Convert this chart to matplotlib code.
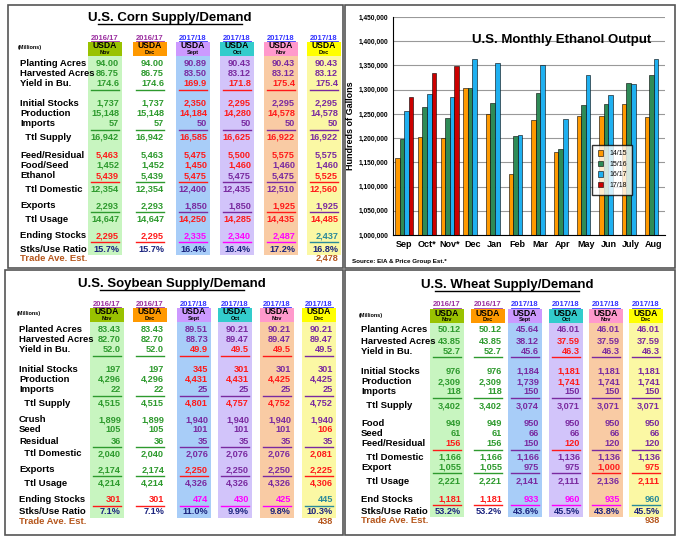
import matplotlib
matplotlib.use("Agg")
import matplotlib.pyplot as plt
from matplotlib.patches import Rectangle

plt.rcParams["font.family"] = ["Liberation Sans", "DejaVu Sans"]

# ---- ethanol data (thousand hundreds of gallons) ----
months = ["Sep", "Oct*", "Nov*", "Dec", "Jan", "Feb", "Mar", "Apr", "May", "Jun", "July", "Aug"]
eth_1415 = [1159, 1202, 1200, 1304, 1250, 1125, 1238, 1172, 1246, 1246, 1271, 1244]
eth_1516 = [1199, 1265, 1242, 1304, 1273, 1204, 1294, 1178, 1269, 1271, 1313, 1330]
eth_1617 = [1255, 1292, 1284, 1363, 1355, 1206, 1350, 1239, 1331, 1288, 1311, 1363]
eth_1718 = [1284, 1335, 1348]

years = ["2016/17", "2016/17", "2017/18", "2017/18", "2017/18", "2017/18"]
months_hdr = ["Nov", "Dec", "Sept", "Oct", "Nov", "Dec"]

corn_labels = ["Planting Acres", "Harvested Acres", "Yield in Bu.", "Initial Stocks", "Production", "Imports",
               "  Ttl Supply", "Feed/Residual", "Food/Seed", "Ethanol", "  Ttl Domestic", "Exports",
               "  Ttl Usage", "Ending Stocks", "Stks/Use Ratio"]
corn_vals = [
    ["94.00", "94.00", "90.89", "90.43", "90.43", "90.43"],
    ["86.75", "86.75", "83.50", "83.12", "83.12", "83.12"],
    ["174.6", "174.6", "169.9", "171.8", "175.4", "175.4"],
    ["1,737", "1,737", "2,350", "2,295", "2,295", "2,295"],
    ["15,148", "15,148", "14,184", "14,280", "14,578", "14,578"],
    ["57", "57", "50", "50", "50", "50"],
    ["16,942", "16,942", "16,585", "16,625", "16,922", "16,922"],
    ["5,463", "5,463", "5,475", "5,500", "5,575", "5,575"],
    ["1,452", "1,452", "1,450", "1,460", "1,460", "1,460"],
    ["5,439", "5,439", "5,475", "5,475", "5,475", "5,525"],
    ["12,354", "12,354", "12,400", "12,435", "12,510", "12,560"],
    ["2,293", "2,293", "1,850", "1,850", "1,925", "1,925"],
    ["14,647", "14,647", "14,250", "14,285", "14,435", "14,485"],
    ["2,295", "2,295", "2,335", "2,340", "2,487", "2,437"],
    ["15.7%", "15.7%", "16.4%", "16.4%", "17.2%", "16.8%"],
]
corn_trade = "2,478"

soy_labels = ["Planted Acres", "Harvested Acres", "Yield in Bu.", "Initial Stocks", "Production", "Imports",
              "  Ttl Supply", "Crush", "Seed", "Residual", "  Ttl Domestic", "Exports",
              "  Ttl Usage", "Ending Stocks", "Stks/Use Ratio"]
soy_vals = [
    ["83.43", "83.43", "89.51", "90.21", "90.21", "90.21"],
    ["82.70", "82.70", "88.73", "89.47", "89.47", "89.47"],
    ["52.0", "52.0", "49.9", "49.5", "49.5", "49.5"],
    ["197", "197", "345", "301", "301", "301"],
    ["4,296", "4,296", "4,431", "4,431", "4,425", "4,425"],
    ["22", "22", "25", "25", "25", "25"],
    ["4,515", "4,515", "4,801", "4,757", "4,752", "4,752"],
    ["1,899", "1,899", "1,940", "1,940", "1,940", "1,940"],
    ["105", "105", "101", "101", "101", "106"],
    ["36", "36", "35", "35", "35", "35"],
    ["2,040", "2,040", "2,076", "2,076", "2,076", "2,081"],
    ["2,174", "2,174", "2,250", "2,250", "2,250", "2,225"],
    ["4,214", "4,214", "4,326", "4,326", "4,326", "4,306"],
    ["301", "301", "474", "430", "425", "445"],
    ["7.1%", "7.1%", "11.0%", "9.9%", "9.8%", "10.3%"],
]
soy_trade = "438"

wheat_labels = ["Planting Acres", "Harvested Acres", "Yield in Bu.", "Initial Stocks", "Production", "Imports",
                "  Ttl Supply", "Food", "Seed", "Feed/Residual", "  Ttl Domestic", "Export",
                "  Ttl Usage", "End Stocks", "Stks/Use Ratio"]
wheat_vals = [
    ["50.12", "50.12", "45.64", "46.01", "46.01", "46.01"],
    ["43.85", "43.85", "38.12", "37.59", "37.59", "37.59"],
    ["52.7", "52.7", "45.6", "46.3", "46.3", "46.3"],
    ["976", "976", "1,184", "1,181", "1,181", "1,181"],
    ["2,309", "2,309", "1,739", "1,741", "1,741", "1,741"],
    ["118", "118", "150", "150", "150", "150"],
    ["3,402", "3,402", "3,074", "3,071", "3,071", "3,071"],
    ["949", "949", "950", "950", "950", "950"],
    ["61", "61", "66", "66", "66", "66"],
    ["156", "156", "150", "120", "120", "120"],
    ["1,166", "1,166", "1,166", "1,136", "1,136", "1,136"],
    ["1,055", "1,055", "975", "975", "1,000", "975"],
    ["2,221", "2,221", "2,141", "2,111", "2,136", "2,111"],
    ["1,181", "1,181", "933", "960", "935", "960"],
    ["53.2%", "53.2%", "43.6%", "45.5%", "43.8%", "45.5%"],
]
wheat_trade = "938"

# ---- styling ----
C = {"g": "#2e9a2e", "p": "#7a2aa0", "r": "#ff1a1a", "m": "#ff00ff", "t": "#2a8a9a", "n": "#1a237e"}
corn_cols = ["ggpppp", "ggpppp", "ggrrrp", "ggrrpp", "ggrrrp", "ggpppp", "ggrrrp", "rgrrrp",
             "ggrrpp", "rgrppr", "ggpppr", "ggpprp", "ggrrrr", "rrmmmt", "nnnnnn"]
soy_cols = ["ggpppp", "ggpppp", "ggrrrp", "ggrrpp", "ggrrrp", "ggpppp", "ggrrrp", "ggpppp",
            "ggpppr", "ggpppp", "ggpppr", "ggrppr", "ggpppr", "rrmmmt", "nnnnnn"]
wheat_cols = ["ggpppp", "ggprpp", "ggprpp", "ggprpp", "ggprpp", "ggpppp", "ggpppp", "ggpppp",
              "ggpppp", "rgprpp", "ggpppp", "ggpprr", "ggpppr", "rrmmmt", "nnnnnn"]
bg_cols = ["#c8f5c0", "#ffffff", "#a8cdf8", "#d2c4fa", "#f9cba4", "#fbf8a4"]
hdr_cols = ["#99c200", "#ff9900", "#cc99ff", "#33cccc", "#ff99cc", "#ffff00"]
underline_rows = [2, 5, 9, 11, 13]

fig = plt.figure(figsize=(6.79, 5.41), dpi=100)
ax = fig.add_axes([0, 0, 1, 1])
ax.set_xlim(0, 679)
ax.set_ylim(541, 0)
ax.axis("off")

for (x, y, w, h) in [(8, 5, 335, 263), (345, 5, 330, 263), (5, 270, 338, 265), (345, 270, 330, 265)]:
    ax.add_patch(Rectangle((x, y), w, h, fill=False, ec="#555555", lw=1.2))


def draw_table(title, tx, lx, cols_x, rows_y, hdr_y, labels, vals, colors, trade):
    ax.text(tx, hdr_y - 24, title, ha="center", va="center", fontsize=9.5, fontweight="bold")
    ax.plot([tx - 72, tx + 72], [hdr_y - 18, hdr_y - 18], color="k", lw=1)
    ax.text(lx - 2, hdr_y + 6, "(Millions)", fontsize=4, fontweight="bold", va="center")
    top = hdr_y + 14
    bot = rows_y[-1] + 6
    for j, cx in enumerate(cols_x):
        ax.add_patch(Rectangle((cx - 17, top), 34, bot - top, color=bg_cols[j], lw=0))
        ax.add_patch(Rectangle((cx - 17, hdr_y), 34, 14, color=hdr_cols[j], lw=0))
        ycol = "#9b2fa0" if j < 2 else "#3333ff"
        ax.text(cx, hdr_y - 4, years[j], ha="center", va="center", fontsize=5.5, fontweight="bold", color=ycol)
        ax.plot([cx - 14, cx + 14], [hdr_y - 1, hdr_y - 1], color=ycol, lw=0.6)
        ax.text(cx, hdr_y + 4, "USDA", ha="center", va="center", fontsize=6.2, fontweight="bold")
        ax.text(cx, hdr_y + 10.5, months_hdr[j], ha="center", va="center", fontsize=4, fontweight="bold")
    for i, lab in enumerate(labels):
        y = rows_y[i]
        ax.text(lx, y, lab, va="center", fontsize=6.8, fontweight="bold")
        for j, cx in enumerate(cols_x):
            c = C[colors[i][j]]
            ax.text(cx + 14, y, vals[i][j], ha="right", va="center", fontsize=6.6, fontweight="bold", color=c)
            if i in underline_rows:
                ax.plot([cx - 14, cx + 14], [y + 6, y + 6], color=c, lw=1)
    ax.text(lx, rows_y[-1] + 9.5, "Trade Ave. Est.", va="center", fontsize=6.8, fontweight="bold", color="#b5561c")
    ax.text(cols_x[-1] + 14, rows_y[-1] + 9.5, trade, ha="right", va="center", fontsize=6.6,
            fontweight="bold", color="#b5561c")


corn_y = [63, 74, 84, 103, 113, 124, 137, 155, 165, 176, 189, 206, 219, 236, 249]
draw_table("U.S. Corn Supply/Demand", 170, 20, [105, 150, 193, 237, 281, 324], corn_y, 42,
           corn_labels, corn_vals, corn_cols, corn_trade)
soy_y = [329, 339, 350, 369, 379, 390, 403, 420, 430, 441, 454, 470, 483, 500, 512]
draw_table("U.S. Soybean Supply/Demand", 172, 19, [107, 150, 194, 235, 277, 319], soy_y, 308,
           soy_labels, soy_vals, soy_cols, soy_trade)
wheat_y = [330, 341, 351, 371, 382, 392, 406, 423, 433, 444, 457, 467, 481, 499, 511]
draw_table("U.S. Wheat Supply/Demand", 507, 361, [447, 488, 525, 566, 606, 646], wheat_y, 309,
           wheat_labels, wheat_vals, wheat_cols, wheat_trade)

# ---- ethanol chart ----
bx = fig.add_axes([393 / 679, 1 - 235 / 541, 272 / 679, 218 / 541])
w = 0.2
pos = list(range(len(months)))
series = [("14/15", eth_1415, "#ff9900"), ("15/16", eth_1516, "#2e8b57"),
          ("16/17", eth_1617, "#1fb0f0"), ("17/18", eth_1718, "#cc0000")]
for k, (name, vals, col) in enumerate(series):
    xs = [p - 0.3 + k * w for p in pos[:len(vals)]]
    bx.bar(xs, [v * 1000 for v in vals], width=w, color=col, edgecolor="black", lw=0.4, label=name)
bx.set_ylim(1000000, 1450000)
bx.set_xlim(-0.5, 11.5)
bx.set_yticks(range(1000000, 1450001, 50000))
bx.set_yticklabels([f"{v:,}" for v in range(1000000, 1450001, 50000)], fontsize=4.8, fontweight="bold")
bx.set_xticks(pos)
bx.set_xticklabels(months, fontsize=6.5, fontweight="bold")
bx.tick_params(length=0)
bx.yaxis.grid(True, color="#999999", lw=0.8)
bx.set_axisbelow(True)
for s in ["top", "right"]:
    bx.spines[s].set_visible(False)
bx.set_ylabel("Hundreds of Gallons", fontsize=6.5, fontweight="bold", labelpad=2)
bx.text(0.95, 0.88, "U.S. Monthly Ethanol Output", transform=bx.transAxes, ha="right",
        fontsize=9.5, fontweight="bold")
bx.legend(loc="center left", bbox_to_anchor=(0.72, 0.3), fontsize=5, frameon=True,
          fancybox=False, edgecolor="black", handlelength=0.8, handleheight=0.8, borderpad=0.8)
ax.text(352, 261, "Source: EIA & Price Group Est.*", fontsize=4.5, fontweight="bold", va="center")

fig.savefig("out.png", dpi=100)
